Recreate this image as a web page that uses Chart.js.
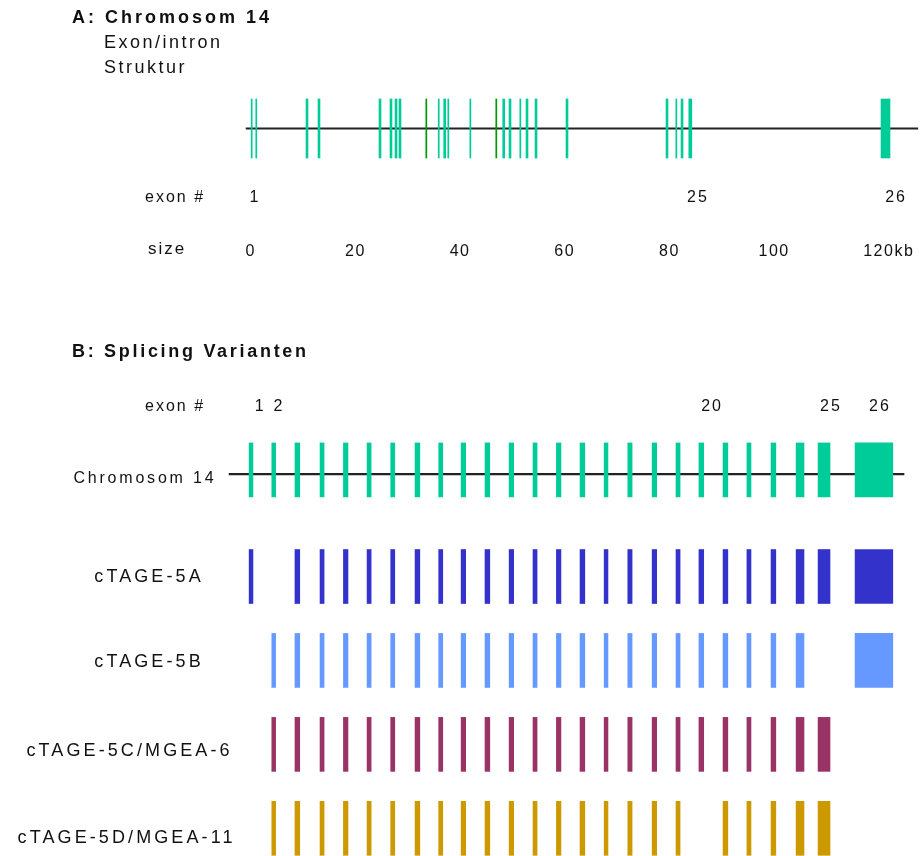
<!DOCTYPE html>
<html>
<head>
<meta charset="utf-8">
<script src="https://cdn.jsdelivr.net/npm/chart.js@4.4.1/dist/chart.umd.min.js"></script>
<style>
  html, body { margin: 0; padding: 0; background: #fff; }
  #wrap { position: relative; width: 921px; height: 856px; }
  canvas { position: absolute; left: 0; }
  #chartA { top: 0; }
  #chartB { top: 300px; }
</style>
</head>
<body>
<div id="wrap">
  <canvas id="chartA" width="921" height="300"></canvas>
  <canvas id="chartB" width="921" height="556"></canvas>
</div>
<script>
// ---- Panel A: exon/intron structure on chromosome 14 (kb) ----
const exonStartKb = [0.22, 1.10, 10.70, 12.99, 24.65, 26.75, 27.71, 28.47, 35.96, 37.01, 37.79, 42.00,
  48.29, 49.49, 51.55, 52.74, 54.46, 60.38, 79.49, 81.36, 82.36, 83.84, 120.57];
const exonEndKb = [0.42, 1.30, 11.08, 13.37, 25.03, 27.13, 28.09, 28.85, 36.16, 37.39, 37.99, 42.20,
  48.67, 49.87, 51.75, 53.12, 54.84, 60.76, 79.87, 81.56, 82.74, 84.42, 122.29];
// two exons drawn in a darker green in the original
const altExonStartKb = [33.59, 46.96];
const altExonEndKb = [33.79, 47.16];
const geneSpanKb = [-0.75, 127.6];
const sizeTicksKb = [0, 20, 40, 60, 80, 100, 120];
const sizeUnit = "kb";
const exonLabelsA = ["1", "25", "26"];
const exonLabelsAKb = [0.76, 85.4, 123.25];

// ---- Panel B: splice variants, one slot per exon ----
const exonStartSlot = [0.92, 1.87, 2.84, 3.89, 4.87, 5.86, 6.85, 7.87, 8.86, 9.80, 10.80, 11.81, 12.81,
  13.79, 14.78, 15.79, 16.78, 17.80, 18.80, 19.76, 20.77, 21.77, 22.78, 23.83, 24.75, 26.30];
const exonEndSlot = [1.08, 2.03, 3.04, 4.06, 5.06, 6.03, 7.02, 8.07, 9.03, 9.99, 11.00, 12.00, 12.98,
  13.98, 14.98, 15.95, 16.96, 17.99, 18.97, 19.96, 20.97, 21.94, 22.98, 24.16, 25.25, 27.88];
const backboneSlot = [0.08, 28.35];
const trackNames = ["Chromosom 14", "cTAGE-5A", "cTAGE-5B", "cTAGE-5C/MGEA-6", "cTAGE-5D/MGEA-11"];
const range = (a, b) => Array.from({ length: b - a + 1 }, (_, i) => a + i);
const trackExons = [
  range(1, 26),
  [1].concat(range(3, 26)),
  range(2, 24).concat([26]),
  range(2, 25),
  range(2, 19).concat(range(21, 25)),
];
const exonLabelsB = ["1", "2", "20", "25", "26"];
const exonLabelsBSlot = [1.34, 2.13, 20.27, 25.25, 27.30];

// ---- styles / layout ----
const trackColors = ["#00CC99", "#3333CC", "#6699FF", "#993366", "#CC9900"];
const altExonColor = "#009900";
const laneB = [0, 1.27, 2.27, 3.27, 4.27];
const labelCenterX = [143.5, 147.5, 147.5, 128, 125];
const labelOffsetY = [9, 0.5, 2, 7, 10];
const FONT = '"Liberation Sans", Arial, sans-serif';

// text with letter spacing; align = left | center
function drawText(ctx, str, x, y, size, opts = {}) {
  const sp = opts.spacing || 0;
  ctx.save();
  ctx.font = (opts.bold ? "bold " : "") + size + "px " + FONT;
  ctx.letterSpacing = sp + "px";
  ctx.fillStyle = "#111";
  ctx.textBaseline = "middle";
  ctx.textAlign = "left";
  const w = ctx.measureText(str).width - sp;
  const left = opts.align === "center" ? x - w / 2 : x;
  ctx.fillText(str, left, y);
  ctx.restore();
  return left + w + sp;
}

const bar = (start, end, lane) => ({ x: [start, end], y: lane });

Chart.defaults.animation = false;

// ---- Chart A ----
const textA = {
  id: "textA",
  afterDraw(chart) {
    const ctx = chart.ctx;
    const xs = chart.scales.x;
    drawText(ctx, "A: Chromosom 14", 72, 18, 18, { bold: true, spacing: 3 });
    drawText(ctx, "Exon/intron", 104, 43, 18, { spacing: 2.5 });
    drawText(ctx, "Struktur", 104, 68, 18, { spacing: 2.5 });
    drawText(ctx, "exon #", 145, 198, 16, { spacing: 2 });
    exonLabelsA.forEach((t, i) => {
      drawText(ctx, t, xs.getPixelForValue(exonLabelsAKb[i]), 198, 16, { spacing: 2, align: "center" });
    });
    drawText(ctx, "size", 148, 249, 17, { spacing: 2 });
    sizeTicksKb.forEach((v, i) => {
      const end = drawText(ctx, String(v), xs.getPixelForValue(v), 252, 16, { spacing: 1.5, align: "center" });
      if (i === sizeTicksKb.length - 1) drawText(ctx, sizeUnit, end, 252, 16, { spacing: 1.5 });
    });
  },
};

new Chart(document.getElementById("chartA"), {
  type: "bar",
  data: {
    datasets: [
      {
        label: "exon",
        data: exonStartKb.map((s, i) => bar(s, exonEndKb[i], 0)),
        backgroundColor: trackColors[0],
        barThickness: 59,
      },
      {
        label: "exon (alt)",
        data: altExonStartKb.map((s, i) => bar(s, altExonEndKb[i], 0)),
        backgroundColor: altExonColor,
        barThickness: 59,
      },
      {
        label: "intron",
        data: [bar(geneSpanKb[0], geneSpanKb[1], 0)],
        backgroundColor: "#222",
        barThickness: 1.5,
      },
    ],
  },
  options: {
    responsive: false,
    indexAxis: "y",
    grouped: false,
    clip: false,
    layout: { padding: { left: 229.07, right: 1.1, top: 78.5, bottom: 121.5 } },
    scales: {
      x: { type: "linear", min: -4, max: 128, display: false },
      y: { type: "linear", min: -1, max: 1, offset: false, display: false },
    },
    plugins: { legend: { display: false }, tooltip: { enabled: false } },
  },
  plugins: [textA],
});

// ---- Chart B ----
const textB = {
  id: "textB",
  afterDraw(chart) {
    const ctx = chart.ctx;
    const xs = chart.scales.x;
    const ys = chart.scales.y;
    drawText(ctx, "B: Splicing Varianten", 72, 52, 18, { bold: true, spacing: 2.7 });
    drawText(ctx, "exon #", 145, 107, 16, { spacing: 2 });
    exonLabelsB.forEach((t, i) => {
      drawText(ctx, t, xs.getPixelForValue(exonLabelsBSlot[i]), 107, 16, { spacing: 2, align: "center" });
    });
    trackNames.forEach((name, i) => {
      const size = i === 0 ? 16 : 18;
      const sp = i === 0 ? 2.8 : 3.1;
      drawText(ctx, name, labelCenterX[i], ys.getPixelForValue(laneB[i]) + labelOffsetY[i], size, { spacing: sp, align: "center" });
    });
  },
};

const datasetsB = trackNames.map((name, t) => ({
  label: name,
  data: trackExons[t].map((n) => bar(exonStartSlot[n - 1], exonEndSlot[n - 1], laneB[t])),
  backgroundColor: trackColors[t],
  barThickness: 54,
}));
datasetsB.push({
  label: "backbone",
  data: [bar(backboneSlot[0], backboneSlot[1], laneB[0] + 0.05)],
  backgroundColor: "#222",
  barThickness: 1.5,
});

new Chart(document.getElementById("chartB"), {
  type: "bar",
  data: { datasets: datasetsB },
  options: {
    responsive: false,
    indexAxis: "y",
    grouped: false,
    clip: false,
    layout: { padding: { left: 229.07, right: 1.1, top: 86, bottom: 0 } },
    scales: {
      x: { type: "linear", min: 0.08, max: 29.015, display: false },
      y: { type: "linear", min: -1, max: 4.6, reverse: true, offset: false, display: false },
    },
    plugins: { legend: { display: false }, tooltip: { enabled: false } },
  },
  plugins: [textB],
});
</script>
</body>
</html>
